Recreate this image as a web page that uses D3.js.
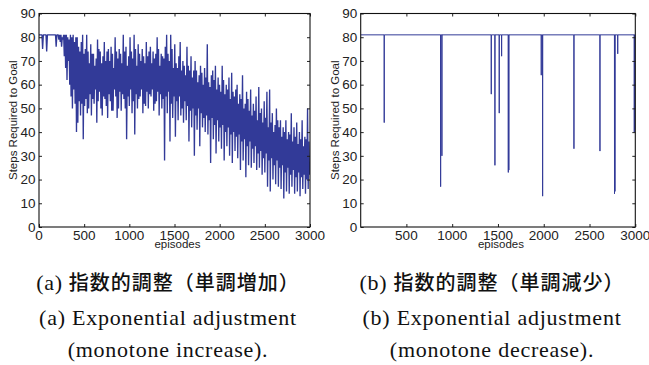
<!DOCTYPE html>
<html>
<head>
<meta charset="utf-8">
<script src="https://cdn.jsdelivr.net/npm/d3@7"></script>
<style>
  body { margin: 0; background: #fff; }
  svg { display: block; }
</style>
</head>
<body>
<div id="chart"></div>
<script>
// ---- data ----
const xTicksA = [0, 500, 1000, 1500, 2000, 2500, 3000];
const xTicksB = [500, 1000, 1500, 2000, 2500, 3000];
const yTicks = [0, 10, 20, 30, 40, 50, 60, 70, 80, 90];

// panel (a): per 15-episode bin, highest and lowest steps seen
const binSize = 15;
const binHighA = [
  81,81, 81,81, 81,81, 81,81, 81,81, 81,81, 81,81, 81,81, 81,80, 81,81,
  81,80, 79,81, 80,81, 78,80, 80,76, 74,78, 81,73, 75,81, 74,69, 77,73,
  73,68, 71,79, 75,74, 69,72, 78,70, 74,75, 70,76, 73,67, 80,74, 71,75,
  73,69, 81,74, 76,68, 72,80, 74,71, 81,75, 68,77, 73,70, 75,72, 69,78,
  72,74, 76,69, 74,71, 73,80, 75,68, 73,72, 71,76, 81,73, 70,81, 75,67,
  77,69, 67,72, 78,66, 70,68, 64,76, 68,66, 72,63, 66,70, 66,61, 64,68,
  65,60, 67,63, 77,61, 59,64, 66,62, 68,58, 63,60, 57,68, 62,56, 60,58,
  63,54, 65,57, 55,58, 60,52, 56,54, 64,50, 52,57, 54,49, 58,47, 52,49,
  55,45, 59,48, 50,44, 53,46, 57,42, 58,44, 48,40, 43,50, 45,42, 45,38,
  42,40, 45,37, 40,39, 48,36, 42,38, 44,35, 40,37, 45,34, 38,37, 50,36
];
const binLowA = [
  81,81, 75,81, 81,74, 81,81, 81,81, 81,81, 76,81, 79,78, 76,79, 72,67,
  62,70, 60,55, 50,58, 52,40, 44,53, 47,52, 37,51, 54,48, 50,56, 47,54,
  52,58, 44,53, 57,50, 47,55, 54,51, 46,56, 53,49, 49,58, 55,46, 50,57,
  49,56, 54,50, 37,55, 51,58, 48,53, 39,56, 50,54, 55,58, 48,52, 51,57,
  50,56, 55,58, 49,52, 53,57, 47,56, 50,54, 28,55, 48,57, 36,52, 46,55,
  38,53, 45,55, 47,50, 44,53, 45,51, 36,49, 42,50, 30,47, 41,50, 34,48,
  42,46, 40,47, 39,45, 27,46, 37,43, 31,45, 36,42, 33,43, 28,40, 34,42,
  30,39, 27,40, 32,38, 29,39, 24,36, 28,37, 21,34, 26,36, 25,33, 27,34,
  24,31, 25,32, 22,29, 23,31, 17,28, 15,29, 20,26, 18,28, 17,25, 16,26,
  12,23, 15,25, 14,22, 17,24, 14,21, 15,23, 13,21, 16,22, 14,20, 16,22
];

// panel (b): steps stay at 81 except for these episodes
const baseStepsB = 81;
const spikeEpisodesB = [258, 874, 888, 1427, 1467, 1514, 1540, 1613, 1619, 1973, 1988, 2330, 2614, 2773, 2778, 2808, 2989, 2995];
const spikeStepsB = [44, 17, 30, 56, 26, 48, 72, 23, 24, 64, 13, 33, 32, 14, 15, 73, 40, 41];

const captionA = ["(a) ", "指数的調整（単調増加）", "(a) Exponential adjustment", "(monotone increase)."];
const captionB = ["(b) ", "指数的調整（単調減少）", "(b) Exponential adjustment", "(monotone decrease)."];

// ---- build series ----
const seriesA = [];
binHighA.forEach((h, i) => {
  seriesA.push({ ep: i * binSize + 3, v: h });
  seriesA.push({ ep: i * binSize + 10, v: binLowA[i] });
});
seriesA[0].ep = 0;

const seriesB = [{ ep: 1, v: baseStepsB }];
spikeEpisodesB.forEach((ep, i) => {
  seriesB.push({ ep: ep - 1, v: baseStepsB });
  seriesB.push({ ep: ep, v: spikeStepsB[i] });
  seriesB.push({ ep: ep + 1, v: baseStepsB });
});
seriesB.push({ ep: 3000, v: baseStepsB });

// ---- drawing ----
const W = 649, H = 365;
const lineColor = "#323a98";
const svg = d3.select("#chart").append("svg")
  .attr("width", W).attr("height", H);

function drawPanel(p) {
  const x = d3.scaleLinear().domain(p.xDomain).range([p.left, p.right]);
  const y = d3.scaleLinear().domain([0, 90]).range([p.bottom, p.top]);
  const g = svg.append("g");

  const clipId = "clip" + p.name;
  g.append("clipPath").attr("id", clipId).append("rect")
    .attr("x", p.left).attr("y", p.top)
    .attr("width", p.right - p.left).attr("height", p.bottom - p.top);

  g.append("path")
    .datum(p.data)
    .attr("clip-path", `url(#${clipId})`)
    .attr("fill", "none")
    .attr("stroke", lineColor)
    .attr("stroke-width", p.lineWidth)
    .attr("stroke-linejoin", "bevel")
    .attr("d", d3.line().x(d => x(d.ep)).y(d => y(d.v)));

  const tickLen = 3;
  // inward ticks on all four sides (matlab style box)
  g.append("g").attr("transform", `translate(0,${p.bottom})`)
    .call(d3.axisTop(x).tickValues(p.xTicks).tickSize(tickLen).tickFormat(""))
    .call(a => a.select(".domain").remove());
  g.append("g").attr("transform", `translate(0,${p.top})`)
    .call(d3.axisBottom(x).tickValues(p.xTicks).tickSize(tickLen).tickFormat(""))
    .call(a => a.select(".domain").remove());
  g.append("g").attr("transform", `translate(${p.left},0)`)
    .call(d3.axisRight(y).tickValues(yTicks).tickSize(tickLen).tickFormat(""))
    .call(a => a.select(".domain").remove());
  g.append("g").attr("transform", `translate(${p.right},0)`)
    .call(d3.axisLeft(y).tickValues(yTicks).tickSize(tickLen).tickFormat(""))
    .call(a => a.select(".domain").remove());
  g.selectAll(".tick line").attr("stroke", "#222");

  g.append("rect")
    .attr("x", p.left).attr("y", p.top)
    .attr("width", p.right - p.left).attr("height", p.bottom - p.top)
    .attr("fill", "none").attr("stroke", "#111").attr("stroke-width", 1.1);

  const font = "'Liberation Sans', Arial, Helvetica, sans-serif";
  g.selectAll(".xl").data(p.xTicks).enter().append("text")
    .attr("x", d => x(d)).attr("y", p.bottom + 13)
    .attr("text-anchor", "middle")
    .attr("font-family", font).attr("font-size", 13.5).attr("fill", "#222")
    .text(d => d);
  g.selectAll(".yl").data(yTicks).enter().append("text")
    .attr("x", p.left - 3.5).attr("y", d => y(d) + 4.8)
    .attr("text-anchor", "end")
    .attr("font-family", font).attr("font-size", 13.5).attr("fill", "#222")
    .text(d => d);

  g.append("text")
    .attr("x", (p.left + p.right) / 2 + 3).attr("y", p.bottom + 21)
    .attr("text-anchor", "middle")
    .attr("font-family", font).attr("font-size", 11.5).attr("fill", "#222")
    .text("episodes");
  g.append("text")
    .attr("transform", `translate(${p.left - 22},${(p.top + p.bottom) / 2}) rotate(-90)`)
    .attr("text-anchor", "middle")
    .attr("font-family", font).attr("font-size", 11.5).attr("fill", "#222")
    .text("Steps Required to Goal");

  // caption
  const serif = "'Liberation Serif', 'Times New Roman', serif";
  const cap = g.append("text")
    .attr("x", p.capX).attr("y", 290)
    .attr("text-anchor", "middle").attr("fill", "#111");
  cap.append("tspan").attr("font-family", serif).attr("font-size", 22)
    .attr("letter-spacing", 0.7).text(p.caption[0]);
  cap.append("tspan").attr("font-family", "'Noto Sans CJK JP', sans-serif")
    .attr("font-size", 20).attr("font-weight", 500).attr("letter-spacing", 1).text(p.caption[1]);
  g.append("text")
    .attr("x", p.capX).attr("y", 325)
    .attr("text-anchor", "middle").attr("fill", "#111")
    .attr("font-family", serif).attr("font-size", 22).attr("letter-spacing", 0.75)
    .text(p.caption[2]);
  g.append("text")
    .attr("x", p.capX).attr("y", 357)
    .attr("text-anchor", "middle").attr("fill", "#111")
    .attr("font-family", serif).attr("font-size", 22).attr("letter-spacing", 0.75)
    .text(p.caption[3]);
}

drawPanel({
  name: "a", data: seriesA, xDomain: [0, 3000], xTicks: xTicksA,
  left: 39, right: 310, top: 13.5, bottom: 227, lineWidth: 1.35,
  capX: 168, caption: captionA
});
drawPanel({
  name: "b", data: seriesB, xDomain: [1, 3000], xTicks: xTicksB,
  left: 360.7, right: 635.3, top: 13.5, bottom: 227, lineWidth: 1,
  capX: 492, caption: captionB
});
</script>
</body>
</html>
